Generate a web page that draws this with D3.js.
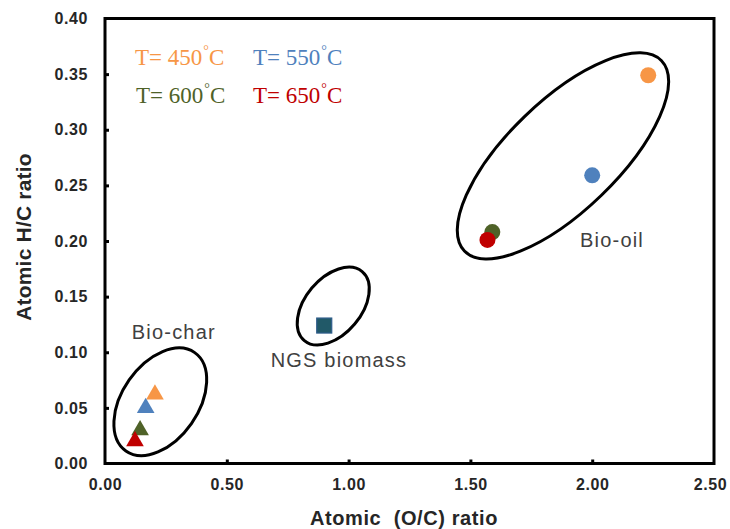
<!DOCTYPE html>
<html><head><meta charset="utf-8">
<script src="https://cdn.jsdelivr.net/npm/d3@7"></script>
<style>body{margin:0;background:#fff}svg{display:block}</style>
</head><body><svg id="c" width="730" height="529"></svg>
<script>
// ---- data ----
const temps = ["450", "550", "600", "650"];
const tempColors = ["#F79646", "#4F81BD", "#4F6228", "#C00000"];
const bioOilOC = [2.23, 2.00, 1.59, 1.57];
const bioOilHC = [0.349, 0.259, 0.208, 0.201];
const bioCharOC = [0.205, 0.167, 0.144, 0.123];
const bioCharHC = [0.062, 0.050, 0.030, 0.020];
const biomassOC = [0.90];
const biomassHC = [0.124];
const xTicks = [0.00, 0.50, 1.00, 1.50, 2.00, 2.50];
const yTicks = [0.00, 0.05, 0.10, 0.15, 0.20, 0.25, 0.30, 0.35, 0.40];
const groupLabels = ["Bio-oil", "NGS biomass", "Bio-char"];
const groupLabelPos = [[1.95, 0.195], [0.68, 0.087], [0.11, 0.112]];
const ellipseCenter = [[1.880, 0.2765], [0.937, 0.1415], [0.227, 0.0555]];
const ellipseAxes = [[137, 55, 44], [45, 28, 50], [60, 38, 55]];

// ---- layout ----
const svg = d3.select("#c");
const x = d3.scaleLinear().domain([0, 2.5]).range([105, 714]);
const y = d3.scaleLinear().domain([0, 0.4]).range([463.5, 18.5]);
const sans = "'Liberation Sans', Arial, sans-serif";

// frame
svg.append("rect").attr("x", x(0)).attr("y", y(0.4))
  .attr("width", x(2.5) - x(0)).attr("height", y(0) - y(0.4))
  .attr("fill", "none").attr("stroke", "#000").attr("stroke-width", 3);

// axes
const ax = svg.append("g").attr("transform", `translate(0,${y(0)})`)
  .call(d3.axisBottom(x).tickValues(xTicks).tickFormat(d3.format(".2f")).tickSize(-4).tickPadding(15));
const ay = svg.append("g").attr("transform", `translate(${x(0)},0)`)
  .call(d3.axisLeft(y).tickValues(yTicks).tickFormat(d3.format(".2f")).tickSize(-4).tickPadding(17));
[ax, ay].forEach(g => {
  g.select(".domain").remove();
  g.selectAll(".tick line").attr("stroke", "#000").attr("stroke-width", 3);
  g.selectAll(".tick text").attr("fill", "#262626").style("font-family", sans)
    .style("font-weight", "bold").style("font-size", "16px").style("letter-spacing", "0.6px");
});
ax.selectAll(".tick").filter(d => d === 2.5).select("text").attr("dx", -4);
ax.selectAll(".tick").filter(d => d === 0 || d === 2.5).select("line").remove();
ay.selectAll(".tick").filter(d => d === 0 || d === 0.4).select("line").remove();

// axis titles
svg.append("text").attr("x", 404).attr("y", 525).attr("text-anchor", "middle")
  .style("font-family", sans).style("font-weight", "bold").style("font-size", "20px")
  .style("letter-spacing", "0.6px").style("white-space", "pre").attr("fill", "#262626")
  .text("Atomic  (O/C) ratio");
svg.append("text").attr("transform", `translate(31,237) rotate(-90)`).attr("text-anchor", "middle")
  .style("font-family", sans).style("font-weight", "bold").style("font-size", "21px")
  .style("letter-spacing", "0.2px").attr("fill", "#262626")
  .text("Atomic H/C ratio");

// ellipses
svg.append("g").selectAll("ellipse").data(ellipseCenter).join("ellipse")
  .attr("transform", (d, i) => `translate(${x(d[0])},${y(d[1])}) rotate(${-ellipseAxes[i][2]})`)
  .attr("rx", (d, i) => ellipseAxes[i][0]).attr("ry", (d, i) => ellipseAxes[i][1])
  .attr("fill", "none").attr("stroke", "#000").attr("stroke-width", 3);

// group labels
svg.append("g").selectAll("text").data(groupLabels).join("text")
  .attr("x", (d, i) => x(groupLabelPos[i][0])).attr("y", (d, i) => y(groupLabelPos[i][1]))
  .style("font-family", sans).style("font-size", "20px").style("letter-spacing", "1.2px")
  .attr("fill", "#404040").text(d => d);

// bio-oil circles
svg.append("g").selectAll("circle").data(bioOilOC).join("circle")
  .attr("cx", d => x(d)).attr("cy", (d, i) => y(bioOilHC[i])).attr("r", 8)
  .attr("fill", (d, i) => tempColors[i]);

// bio-char triangles
const tri = d3.symbol().type(d3.symbolTriangle).size(135);
svg.append("g").selectAll("path").data(bioCharOC).join("path")
  .attr("d", tri).attr("transform", (d, i) => `translate(${x(d)},${y(bioCharHC[i])})`)
  .attr("fill", (d, i) => tempColors[i]);

// biomass square
svg.append("g").selectAll("rect").data(biomassOC).join("rect")
  .attr("x", d => x(d) - 7.5).attr("y", (d, i) => y(biomassHC[i]) - 7.5)
  .attr("width", 15).attr("height", 15)
  .attr("fill", "#215968").attr("stroke", "#2E5C8A").attr("stroke-width", 1.2);

// legend
const legPos = [[135, 65], [253, 65], [136, 103], [253, 103]];
const leg = svg.append("g").selectAll("text").data(temps).join("text")
  .attr("x", (d, i) => legPos[i][0]).attr("y", (d, i) => legPos[i][1])
  .style("font-family", "'Liberation Serif', 'Times New Roman', serif").style("font-size", "23px")
  .attr("fill", (d, i) => tempColors[i]);
leg.append("tspan").text(d => "T= " + d);
leg.append("tspan").attr("dx", 1).attr("dy", -10).style("font-size", "14px").text("°");
leg.append("tspan").attr("dy", 10).text("C");
</script></body></html>
